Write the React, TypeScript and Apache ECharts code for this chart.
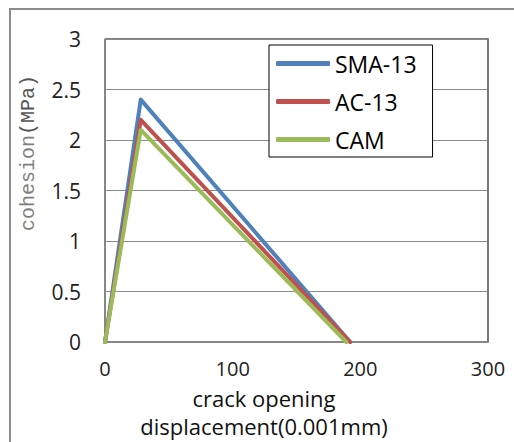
import React, { useEffect, useRef } from "react";
import * as echarts from "echarts";

const seriesNames = ["SMA-13", "AC-13", "CAM"];
const smaData: [number, number][] = [[0, 0], [28, 2.4], [192, 0]];
const acData: [number, number][] = [[0, 0], [28, 2.2], [192, 0]];
const camData: [number, number][] = [[0, 0], [28, 2.1], [189, 0]];
const colors = ["#4F81BD", "#C0504D", "#9BBB59"];
const xTitle = ["crack opening", "displacement(0.001mm)"];
const yTitleMain = "cohesion";
const yTitleUnit = "(MPa)";

export default function App() {
  const ref = useRef<HTMLDivElement>(null);
  useEffect(() => {
    document.body.style.margin = "0";
    if (!ref.current) return;
    const chart = echarts.init(ref.current, null, { renderer: "svg" });
    const font = "'Open Sans', 'Noto Sans', sans-serif";
    const datasets = [smaData, acData, camData];
    chart.setOption({
      animation: false,
      backgroundColor: "#fff",
      grid: {
        left: 105,
        right: 26,
        top: 39,
        bottom: 100,
        show: true,
        borderColor: "#000",
        borderWidth: 1,
        containLabel: false,
      },
      legend: {
        orient: "vertical",
        left: 269,
        top: 45,
        padding: [7, 16, 6, 7],
        itemGap: 15,
        itemWidth: 54,
        itemHeight: 5,
        icon: "roundRect",
        borderColor: "#000",
        borderWidth: 1,
        backgroundColor: "#fff",
        textStyle: { fontFamily: font, fontSize: 23, color: "#000", lineHeight: 22 },
        data: seriesNames,
      },
      xAxis: {
        type: "value",
        min: 0,
        max: 300,
        interval: 100,
        axisLine: { show: true, lineStyle: { color: "#888", width: 1.5 } },
        axisTick: { show: false },
        splitLine: { show: false },
        axisLabel: { fontFamily: font, fontSize: 20, lineHeight: 20, color: "#222", margin: 16 },
      },
      yAxis: [
        {
          type: "value",
          min: 0,
          max: 3,
          interval: 0.5,
          axisLine: { show: true, lineStyle: { color: "#888", width: 1.5 } },
          axisTick: { show: false },
          splitLine: { show: true, lineStyle: { color: "#8a8a8a", width: 1 } },
          axisLabel: { fontFamily: font, fontSize: 21, color: "#222", margin: 24 },
        },
        {
          type: "value",
          position: "right",
          min: 0,
          max: 3,
          interval: 0.5,
          axisLine: { show: true, lineStyle: { color: "#777", width: 2 } },
          axisTick: { show: false },
          splitLine: { show: false },
          axisLabel: { show: false },
        },
      ],
      series: seriesNames.map((name, i) => ({
        name,
        type: "line",
        data: datasets[i],
        symbol: "none",
        color: colors[i],
        lineStyle: { width: 4, color: colors[i], cap: "round", join: "round" },
        z: 2 + i,
      })),
      graphic: [
        {
          type: "rect",
          shape: { x: 10, y: 9, width: 700, height: 700 },
          style: { fill: "none", stroke: "#8c8c8c", lineWidth: 2 },
          z: 0,
          silent: true,
        },
        {
          type: "text",
          x: 28,
          y: 153,
          rotation: Math.PI / 2,
          style: {
            text: "{a|" + yTitleMain + "}{b|" + yTitleUnit + "}",
            align: "center",
            verticalAlign: "middle",
            rich: {
              a: { fontFamily: "'Liberation Mono', monospace", fontSize: 20, fill: "#7f7f7f" },
              b: { fontFamily: "'Liberation Mono', monospace", fontSize: 20, fill: "#555" },
            },
          },
        },
        {
          type: "text",
          x: 264,
          y: 398,
          style: {
            text: xTitle[0],
            align: "center",
            verticalAlign: "middle",
            fontFamily: font,
            fontSize: 22,
            lineHeight: 22,
            fill: "#111",
          },
        },
        {
          type: "text",
          x: 264,
          y: 426,
          style: {
            text: xTitle[1],
            align: "center",
            verticalAlign: "middle",
            fontFamily: font,
            fontSize: 22,
            lineHeight: 22,
            fill: "#111",
          },
        },
      ],
    });
    return () => chart.dispose();
  }, []);
  return <div ref={ref} style={{ width: 514, height: 442 }} />;
}
